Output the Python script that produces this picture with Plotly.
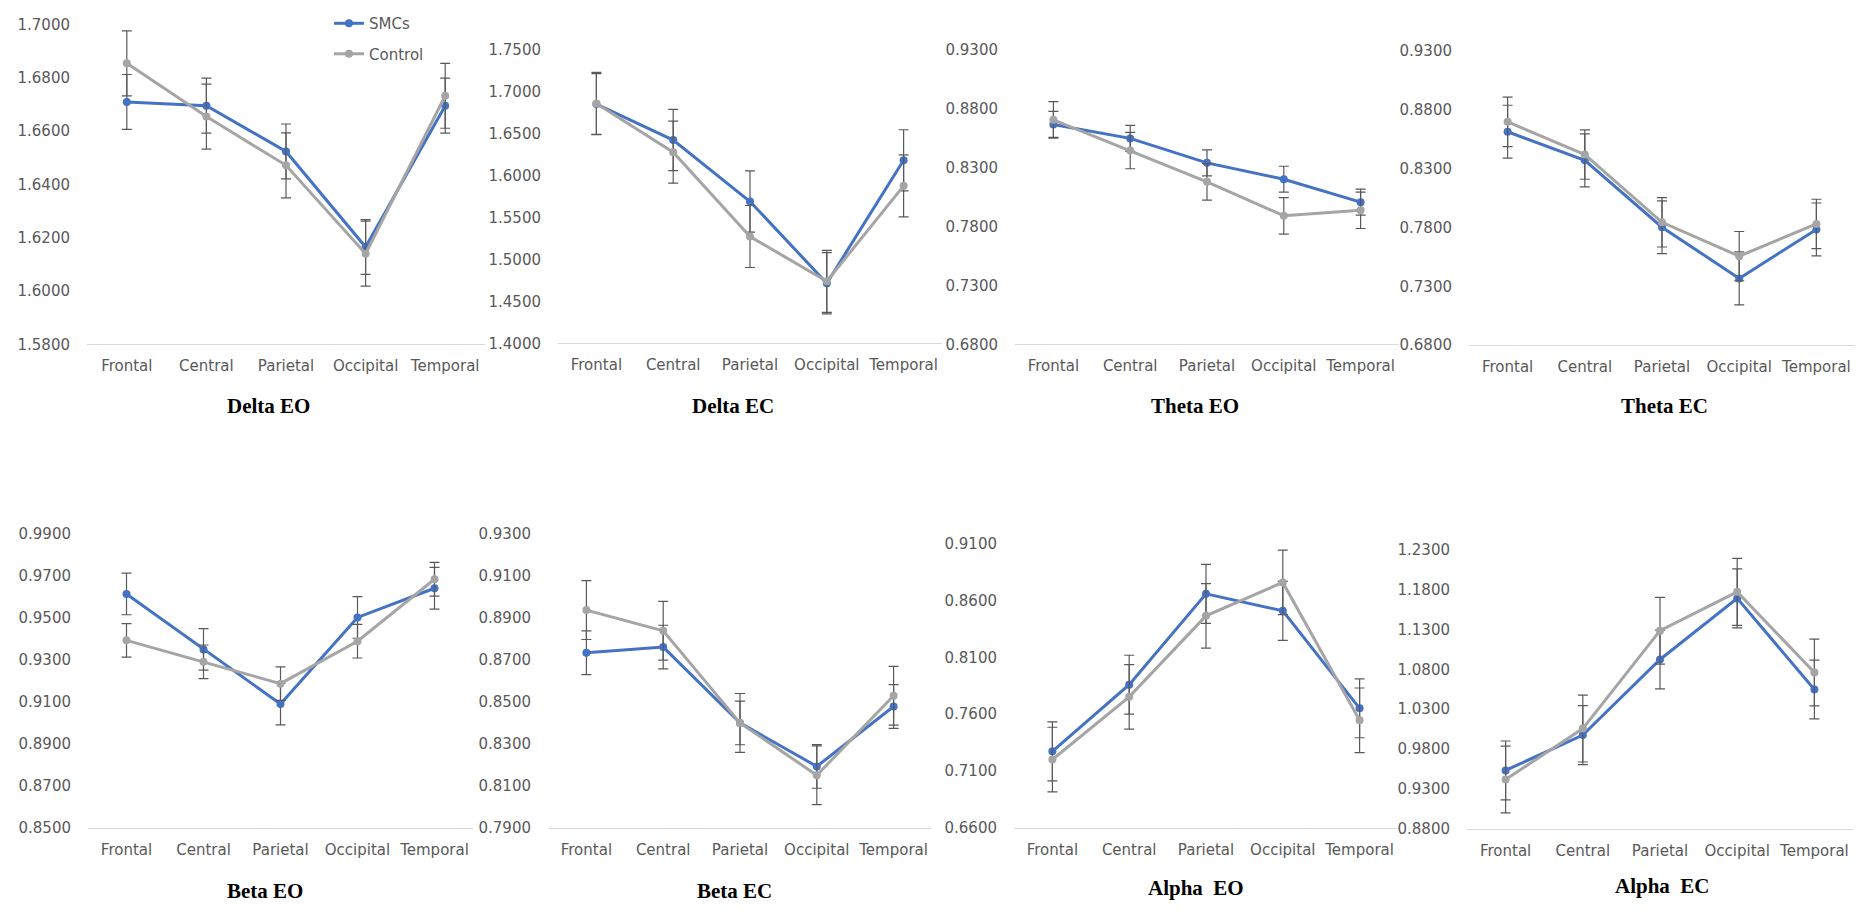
import plotly.graph_objects as go

W, H = 1872, 912

regions = ["Frontal", "Central", "Parietal", "Occipital", "Temporal"]
series_names = ["SMCs", "Control"]
panel_titles = ["Delta EO", "Delta EC", "Theta EO", "Theta EC",
                "Beta EO", "Beta EC", "Alpha\u00a0 EO", "Alpha\u00a0 EC"]

# means
delta_eo_smcs = [1.6710, 1.6696, 1.6524, 1.6165, 1.6696]
delta_eo_control = [1.6855, 1.6655, 1.6472, 1.6140, 1.6733]
delta_ec_smcs = [1.6856, 1.6427, 1.5693, 1.4717, 1.6185]
delta_ec_control = [1.6864, 1.6282, 1.5275, 1.4740, 1.5880]
theta_eo_smcs = [0.8669, 0.8550, 0.8342, 0.8203, 0.8008]
theta_eo_control = [0.8708, 0.8447, 0.8181, 0.7892, 0.7939]
theta_ec_smcs = [0.8615, 0.8372, 0.7803, 0.7368, 0.7784]
theta_ec_control = [0.8699, 0.8421, 0.7845, 0.7557, 0.7831]
beta_eo_smcs = [0.9612, 0.9348, 0.9088, 0.9500, 0.9639]
beta_eo_control = [0.9391, 0.9289, 0.9185, 0.9387, 0.9682]
beta_ec_smcs = [0.8732, 0.8759, 0.8398, 0.8191, 0.8476]
beta_ec_control = [0.8935, 0.8837, 0.8398, 0.8149, 0.8527]
alpha_eo_smcs = [0.7272, 0.7860, 0.8662, 0.8512, 0.7652]
alpha_eo_control = [0.7200, 0.7753, 0.8468, 0.8763, 0.7546]
alpha_ec_smcs = [0.9530, 0.9974, 1.0925, 1.1693, 1.0548]
alpha_ec_control = [0.9416, 1.0056, 1.1287, 1.1775, 1.0761]

# error bar half-lengths
delta_eo_smcs_err = [0.0103, 0.0103, 0.0103, 0.0103, 0.0103]
delta_eo_control_err = [0.0122, 0.0122, 0.0122, 0.0122, 0.0122]
delta_ec_smcs_err = [0.0365, 0.0365, 0.0365, 0.0365, 0.0365]
delta_ec_control_err = [0.0370, 0.0370, 0.0370, 0.0370, 0.0370]
theta_eo_smcs_err = [0.0110, 0.0110, 0.0110, 0.0110, 0.0110]
theta_eo_control_err = [0.0155, 0.0155, 0.0155, 0.0155, 0.0155]
theta_ec_smcs_err = [0.0225, 0.0225, 0.0225, 0.0225, 0.0225]
theta_ec_control_err = [0.0210, 0.0210, 0.0210, 0.0210, 0.0210]
beta_eo_smcs_err = [0.0099, 0.0099, 0.0099, 0.0099, 0.0099]
beta_eo_control_err = [0.0080, 0.0080, 0.0080, 0.0080, 0.0080]
beta_ec_smcs_err = [0.0104, 0.0104, 0.0104, 0.0104, 0.0104]
beta_ec_control_err = [0.0140, 0.0140, 0.0140, 0.0140, 0.0140]
alpha_eo_smcs_err = [0.0260, 0.0260, 0.0260, 0.0260, 0.0260]
alpha_eo_control_err = [0.0285, 0.0285, 0.0285, 0.0285, 0.0285]
alpha_ec_smcs_err = [0.0370, 0.0370, 0.0370, 0.0370, 0.0370]
alpha_ec_control_err = [0.0420, 0.0420, 0.0420, 0.0420, 0.0420]

# y-axis ranges and tick steps
y_ranges = [[1.58, 1.70], [1.40, 1.75], [0.68, 0.93], [0.68, 0.93],
            [0.85, 0.99], [0.79, 0.93], [0.66, 0.91], [0.88, 1.23]]
y_steps = [0.02, 0.05, 0.05, 0.05, 0.02, 0.02, 0.05, 0.05]

panels = [
    (delta_eo_smcs, delta_eo_smcs_err, delta_eo_control, delta_eo_control_err),
    (delta_ec_smcs, delta_ec_smcs_err, delta_ec_control, delta_ec_control_err),
    (theta_eo_smcs, theta_eo_smcs_err, theta_eo_control, theta_eo_control_err),
    (theta_ec_smcs, theta_ec_smcs_err, theta_ec_control, theta_ec_control_err),
    (beta_eo_smcs, beta_eo_smcs_err, beta_eo_control, beta_eo_control_err),
    (beta_ec_smcs, beta_ec_smcs_err, beta_ec_control, beta_ec_control_err),
    (alpha_eo_smcs, alpha_eo_smcs_err, alpha_eo_control, alpha_eo_control_err),
    (alpha_ec_smcs, alpha_ec_smcs_err, alpha_ec_control, alpha_ec_control_err),
]

# layout (pixels): x0, x1, ytop, ybottom ; title centre x, title y
boxes = [
    (87, 485, 16, 342), (558, 942, 42, 341), (1015, 1399, 42, 342), (1469, 1855, 43, 343),
    (88, 473, 535, 835), (548, 932, 535, 835), (1014, 1398, 546, 835), (1467, 1853, 552, 836),
]
title_pos = [(268, 405), (733, 405), (1195, 405), (1664, 405),
             (265, 900), (734, 900), (1196, 897), (1662, 895)]

BLUE = "#4472C4"
GRAY = "#A5A5A5"
ERR = "#595959"
TXT = "#595959"
FONT = "DejaVu Sans"

fig = go.Figure()
layout = {}
annotations = []
for i, (s, se, c, ce) in enumerate(panels):
    n = i + 1
    xa = "x" if n == 1 else f"x{n}"
    ya = "y" if n == 1 else f"y{n}"
    for vals, errs, name, col in ((s, se, series_names[0], BLUE), (c, ce, series_names[1], GRAY)):
        fig.add_trace(go.Scatter(
            x=regions, y=vals, name=name, mode="lines+markers",
            line=dict(color=col, width=3),
            marker=dict(color=col, size=8),
            error_y=dict(type="data", array=errs, visible=True, color=ERR, thickness=1.2, width=5),
            xaxis=xa, yaxis=ya, showlegend=(n == 1), legendgroup=name,
        ))
    x0, x1, yt, yb = boxes[i]
    layout[f"xaxis{n}"] = dict(
        domain=[x0 / W, x1 / W], anchor=ya, type="category", range=[-0.5, 4.5],
        showgrid=False, zeroline=False, showline=True, linecolor="#D9D9D9", linewidth=1,
        ticks="", tickfont=dict(family=FONT, size=15, color=TXT), ticklabelstandoff=8,
        fixedrange=True,
    )
    lo, hi = y_ranges[i]
    layout[f"yaxis{n}"] = dict(
        domain=[1 - yb / H, 1 - yt / H], anchor=xa, range=[lo, hi],
        tick0=lo, dtick=y_steps[i], tickformat=".4f",
        showgrid=False, zeroline=False, showline=False, ticks="",
        tickfont=dict(family=FONT, size=15, color=TXT), ticklabelstandoff=16,
        fixedrange=True,
    )
    tx, ty = title_pos[i]
    annotations.append(dict(
        text=f"<b>{panel_titles[i]}</b>", x=tx / W, y=1 - ty / H, xref="paper", yref="paper",
        xanchor="center", yanchor="middle", showarrow=False,
        font=dict(family="Liberation Serif", size=21, color="#000000"),
    ))

fig.update_layout(
    width=W, height=H, autosize=False,
    margin=dict(l=0, r=0, t=0, b=0),
    paper_bgcolor="white", plot_bgcolor="white",
    annotations=annotations,
    legend=dict(x=329 / W, y=1 + 2 / H, xanchor="left", yanchor="top",
                font=dict(family=FONT, size=15, color=TXT), tracegroupgap=8,
                bgcolor="rgba(0,0,0,0)", itemwidth=30),
    **layout,
)

fig.write_html("out.html", include_plotlyjs=True, config={"displayModeBar": False})
